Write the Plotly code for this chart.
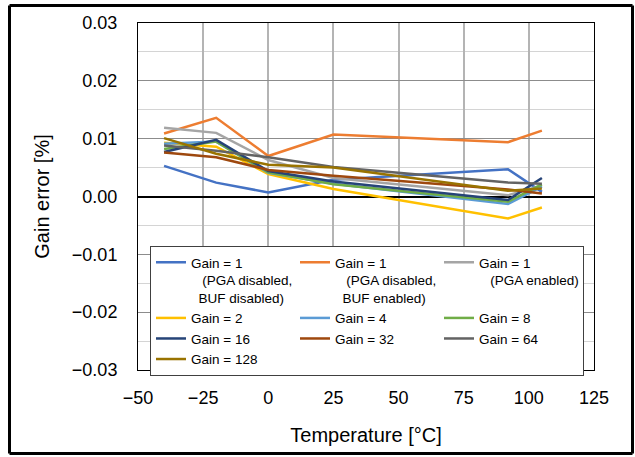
import plotly.graph_objects as go

# Temperature points [°C]
temperature = [-40, -20, 0, 25, 92, 105]

# Gain error [%] per configuration
gain1_pga_dis_buf_dis = [0.0053, 0.0024, 0.0007, 0.0029, 0.0047, 0.0008]
gain1_pga_dis_buf_en = [0.0109, 0.0136, 0.0070, 0.0107, 0.0094, 0.0114]
gain1_pga_en = [0.0119, 0.0110, 0.0063, 0.0032, 0.0002, 0.0019]
gain2 = [0.0093, 0.0086, 0.0039, 0.0013, -0.0038, -0.0019]
gain4 = [0.0091, 0.0095, 0.0041, 0.0022, -0.0013, 0.0017]
gain8 = [0.0082, 0.0095, 0.0042, 0.0021, -0.0009, 0.0021]
gain16 = [0.0077, 0.0098, 0.0044, 0.0026, -0.0006, 0.0032]
gain32 = [0.0076, 0.0068, 0.0046, 0.0036, 0.0012, 0.0005]
gain64 = [0.0088, 0.0079, 0.0068, 0.0051, 0.0024, 0.0022]
gain128 = [0.0101, 0.0074, 0.0055, 0.0050, 0.0010, 0.0014]

NB = "\u00a0"
series = [
    (f"Gain = 1<br>{NB*3}(PGA disabled,<br>{NB*2}BUF disabled)", gain1_pga_dis_buf_dis, "#4472C4"),
    (f"Gain = 1<br>{NB*3}(PGA disabled,<br>{NB*2}BUF enabled)", gain1_pga_dis_buf_en, "#ED7D31"),
    (f"Gain = 1<br>{NB*3}(PGA enabled)", gain1_pga_en, "#A5A5A5"),
    ("Gain = 2", gain2, "#FFC000"),
    ("Gain = 4", gain4, "#5B9BD5"),
    ("Gain = 8", gain8, "#70AD47"),
    ("Gain = 16", gain16, "#264478"),
    ("Gain = 32", gain32, "#9E480E"),
    ("Gain = 64", gain64, "#636363"),
    ("Gain = 128", gain128, "#997300"),
]

fig = go.Figure()
for name, values, color in series:
    fig.add_trace(
        go.Scatter(
            x=temperature,
            y=values,
            mode="lines",
            name=name,
            line={"color": color, "width": 2.5},
        )
    )

# plot area in pixels (for placing the outer frame)
L, R, T, B = 138, 594, 23, 370
W, H = 635, 457


def px_x(p):
    return (p - L) / (R - L)


def px_y(p):
    return (B - p) / (B - T)


frame = [(9.5, 5.5, 632.5, 5.5), (9.5, 453.5, 632.5, 453.5),
         (9.5, 5.5, 9.5, 453.5), (632.5, 5.5, 632.5, 453.5)]

fig.update_layout(
    width=W,
    height=H,
    autosize=False,
    margin={"l": L, "r": W - R, "t": T, "b": H - B, "autoexpand": False},
    paper_bgcolor="white",
    plot_bgcolor="white",
    font={"family": "Liberation Sans, Arial, sans-serif", "color": "#000000", "size": 18},
    xaxis={
        "range": [-50, 125],
        "dtick": 25,
        "tick0": -50,
        "showgrid": True,
        "gridcolor": "#b4b4b4",
        "gridwidth": 1.5,
        "zeroline": False,
        "showline": True,
        "linecolor": "#000000",
        "linewidth": 1,
        "mirror": True,
        "ticks": "",
        "ticklabelstandoff": 11,
        "title": {"text": "Temperature [°C]", "standoff": 21, "font": {"size": 20}},
    },
    yaxis={
        "range": [-0.03, 0.03],
        "dtick": 0.01,
        "tickformat": ".2f",
        "showgrid": True,
        "gridcolor": "#8c8c8c",
        "gridwidth": 1,
        "minor": {"dtick": 0.005, "showgrid": True, "gridcolor": "#d4d4d4", "gridwidth": 1},
        "zeroline": True,
        "zerolinecolor": "#000000",
        "zerolinewidth": 1.5,
        "showline": True,
        "linecolor": "#000000",
        "linewidth": 1,
        "mirror": True,
        "ticks": "",
        "ticklabelstandoff": 16,
        "title": {"text": "Gain error [%]", "standoff": 16, "font": {"size": 20}},
    },
    legend={
        "orientation": "h",
        "x": px_x(150),
        "y": px_y(246),
        "xanchor": "left",
        "yanchor": "top",
        "entrywidth": 99,
        "entrywidthmode": "pixels",
        "valign": "top",
        "bgcolor": "white",
        "bordercolor": "#404040",
        "borderwidth": 1,
        "font": {"size": 13.5},
        "tracegroupgap": 0,
        "itemwidth": 30,
    },
    shapes=[
        {
            "type": "line",
            "xref": "paper",
            "yref": "paper",
            "x0": px_x(a),
            "y0": px_y(b),
            "x1": px_x(c),
            "y1": px_y(d),
            "line": {"color": "#000000", "width": 3},
            "layer": "above",
        }
        for a, b, c, d in frame
    ],
)

fig.write_html(
    "out.html",
    config={"displayModeBar": False},
    post_script="document.body.style.margin='0';",
)
